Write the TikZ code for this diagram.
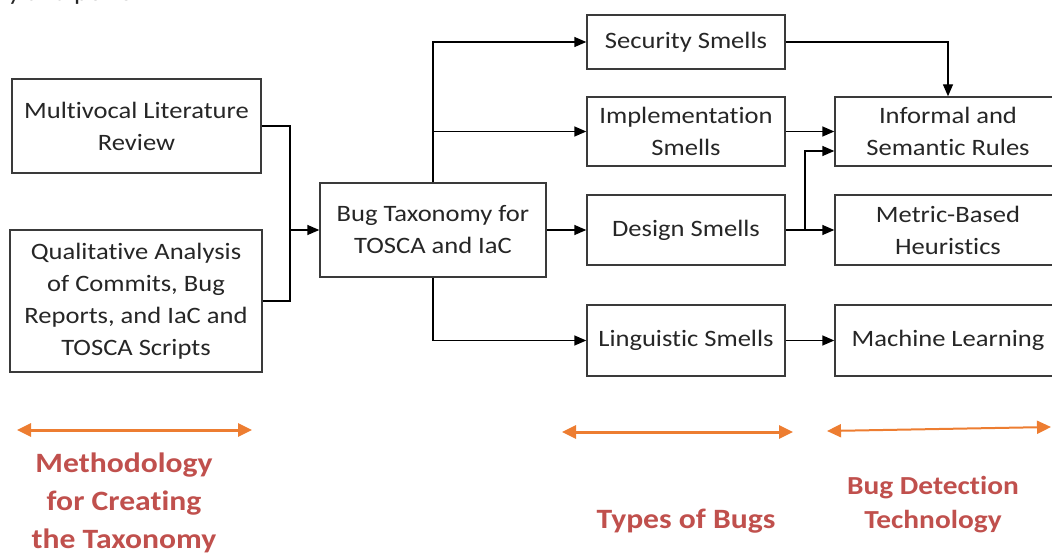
\documentclass[tikz,border=0pt]{standalone}
\usepackage{fontspec}
\setmainfont[Ligatures=NoCommon]{Carlito}
\newfontfamily\widefont[FakeStretch=1.13, Ligatures=NoCommon]{Carlito}
\usetikzlibrary{arrows.meta}
\definecolor{boxline}{HTML}{3A3A3A}
\definecolor{boxtext}{HTML}{262626}
\definecolor{bandorange}{HTML}{ED7D31}
\definecolor{labelred}{HTML}{C0504D}
\tikzset{
  box/.style={draw=boxline, line width=1.4pt, fill=white, align=center,
    font=\widefont\fontsize{23.5}{32}\selectfont, inner sep=0pt, text=boxtext},
  link/.style={line width=1.4pt, -{Triangle[length=12pt,width=10pt]}},
  plain/.style={line width=1.4pt},
  span/.style={bandorange, line width=3pt,
    {Triangle[length=14pt,width=13pt]}-{Triangle[length=14pt,width=13pt]}},
  phase/.style={labelred, font=\widefont\bfseries\fontsize{28}{38}\selectfont, align=center},
  phasesmall/.style={labelred, font=\widefont\bfseries\fontsize{26}{34}\selectfont, align=center}
}
\begin{document}
\begin{tikzpicture}[x=1pt,y=-1pt]
\useasboundingbox (0,0) rectangle (1052,556);
\clip (0,0) rectangle (1052,556);

% line of running text above the figure
\node[anchor=base west, inner sep=0pt, font=\widefont\fontsize{24}{24}\selectfont, text=boxtext]
  (runin) at (8,1) {y and perform};

% methodology inputs
\node[box, minimum width=249pt, minimum height=94pt] (mlr) at (136.5,126)
  {Multivocal Literature\\Review};
\node[box, minimum width=252pt, minimum height=142pt] (qa) at (136,301)
  {Qualitative Analysis\\of Commits, Bug\\Reports, and IaC and\\TOSCA Scripts};

% taxonomy
\node[box, minimum width=226pt, minimum height=94pt] (tax) at (433,230)
  {Bug Taxonomy for\\TOSCA and IaC};

% types of bugs
\node[box, minimum width=198pt, minimum height=54pt] (sec) at (686,42) {Security Smells};
\node[box, minimum width=198pt, minimum height=69pt] (imp) at (686,131.5) {Implementation\\Smells};
\node[box, minimum width=198pt, minimum height=70pt] (des) at (686,230) {Design Smells};
\node[box, minimum width=198pt, minimum height=71pt] (lin) at (686,340.5) {Linguistic Smells};

% detection technology
\node[box, minimum width=226pt, minimum height=69pt] (inf) at (948,131.5) {Informal and\\Semantic Rules};
\node[box, minimum width=226pt, minimum height=70pt] (met) at (948,230) {Metric-Based\\Heuristics};
\node[box, minimum width=226pt, minimum height=71pt] (ml) at (948,340.5) {Machine Learning};

% inputs merge into the taxonomy
\coordinate (merge) at (290,230);
\draw[plain] (mlr.east) -| (merge);
\draw[plain] (qa.east) -| (merge);
\draw[link] (merge) -- (tax.west);

% taxonomy to the smell categories
\draw[link] (tax.north) |- (sec.west);
\draw[link] (tax.north |- imp.west) -- (imp.west);
\draw[link] (tax.east) -- (des.west);
\draw[link] (tax.south) |- (lin.west);

% smell categories to detection techniques
\draw[link] (sec.east) -| (inf.north);
\draw[link] (imp.east) -- (inf.west);
\draw[link] (des.east) -- (met.west);
\coordinate (split) at (805,230);
\draw[link] (split) |- ([yshift=-19.5pt]inf.west);
\draw[link] (lin.east) -- (ml.west);

% column spans
\coordinate (s1a) at (17,430);  \coordinate (s1b) at (252,430);
\coordinate (s2a) at (562,432); \coordinate (s2b) at (793,432);
\coordinate (s3a) at (827,431); \coordinate (s3b) at (1051,427);
\draw[span] (s1a) -- (s1b);
\draw[span] (s2a) -- (s2b);
\draw[span, line width=2pt] (s3a) -- (s3b);

% column captions
\node[phase] (capm) at (124,503) {Methodology\\for Creating\\the Taxonomy};
\node[phase] (capt) at (686,521) {Types of Bugs};
\node[phasesmall] (capd) at (933,505) {Bug Detection\\Technology};
\end{tikzpicture}
\end{document}
